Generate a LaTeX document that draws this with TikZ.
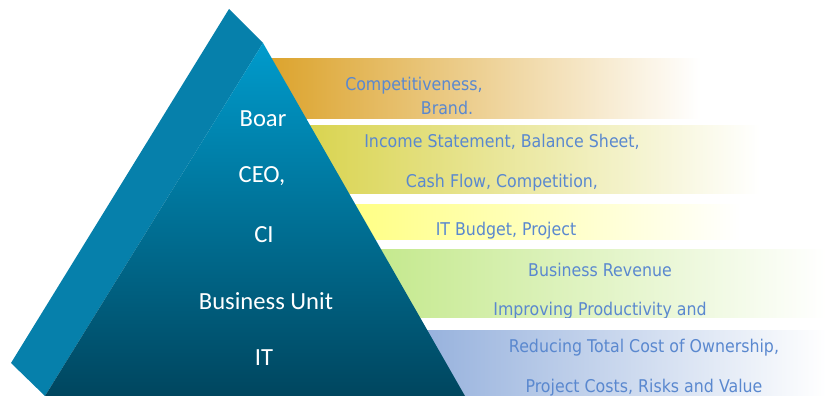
\documentclass[tikz,border=0pt]{standalone}
\usepackage{fontspec}
\setmainfont{DejaVu Sans}[FakeStretch=0.9]
\newfontfamily\levelfont{Carlito}

\definecolor{bandorange}{HTML}{DBA127}
\definecolor{bandolive}{HTML}{D5CF3C}
\definecolor{bandyellow}{HTML}{FFFF66}
\definecolor{bandgreen}{HTML}{B5E36F}
\definecolor{bandblue}{HTML}{6C92CF}
\definecolor{notetext}{HTML}{5A88CF}
\definecolor{sideface}{HTML}{0680AB}
\definecolor{facetop}{HTML}{009BCC}
\definecolor{facebottom}{HTML}{00465F}

\begin{document}
\begin{tikzpicture}[x=0.03cm, y=-0.03cm,
    note/.style={anchor=base, inner sep=0pt, text=notetext,
      font=\fontsize{15}{18}\selectfont},
    level/.style={anchor=base, inner sep=0pt, text=white,
      font=\levelfont\fontsize{21}{25}\selectfont}]
  \useasboundingbox (0,0) rectangle (826,396);

  % bands behind the pyramid, fading out to the right
  \shade[left color=bandorange, right color=white] (258,59) rectangle (700,119);
  \shade[left color=bandolive, right color=white] (258,126) rectangle (760,194);
  \shade[left color=bandyellow, right color=white] (258,204) rectangle (740,239);
  \shade[left color=bandgreen, right color=white] (258,249) rectangle (826,317);
  \shade[left color=bandblue, right color=white] (258,330) rectangle (826,396);

  % band texts, cut off at the band edges
  \begin{scope}
    \clip (258,59) rectangle (700,119);
    \node[note] (compet) at (414,91) {Competitiveness,};
    \node[note] (brand) at (447,115) {Brand.};
  \end{scope}
  \begin{scope}
    \clip (258,126) rectangle (760,194);
    \node[note] (income) at (502,148) {Income Statement, Balance Sheet,};
    \node[note] (cashflow) at (502,187) {Cash Flow, Competition,};
  \end{scope}
  \begin{scope}
    \clip (258,204) rectangle (740,238);
    \node[note] (budget) at (506,235) {IT Budget, Project};
  \end{scope}
  \begin{scope}
    \clip (258,249) rectangle (826,317);
    \node[note] (revenue) at (600,276) {Business Revenue};
    \node[note] (improve) at (600,315) {Improving Productivity and};
  \end{scope}
  \begin{scope}
    \clip (258,330) rectangle (826,396);
    \node[note] (reduce) at (644,352) {Reducing Total Cost of Ownership,};
    \node[note] (costs) at (644,392) {Project Costs, Risks and Value};
  \end{scope}

  % pyramid: side face and front face
  \coordinate (apex) at (263,43);
  \coordinate (baseL) at (45,396);
  \coordinate (baseR) at (465,396);
  \coordinate (backtop) at (229,9);
  \coordinate (backL) at (11,363);
  \fill[sideface] (backtop) -- (apex) -- (baseL) -- (backL) -- cycle;
  \shade[top color=facetop, bottom color=facebottom] (apex) -- (baseR) -- (baseL) -- cycle;

  \node[level] (board) at (263,127) {Boar};
  \node[level] (ceo) at (262,183) {CEO,};
  \node[level] (ci) at (264,243) {CI};
  \node[level] (unit) at (266,309) {Business Unit};
  \node[level] (it) at (264,365) {IT};
\end{tikzpicture}
\end{document}
